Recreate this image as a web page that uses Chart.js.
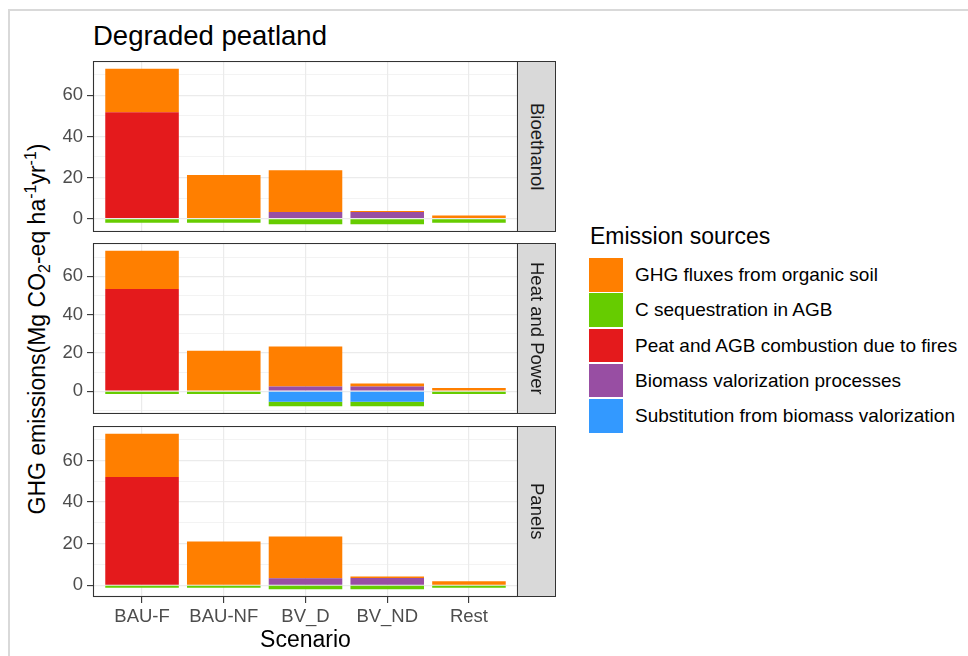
<!DOCTYPE html>
<html>
<head>
<meta charset="utf-8">
<script src="https://cdn.jsdelivr.net/npm/chart.js@4.4.1/dist/chart.umd.min.js"></script>
<style>
    body { margin: 0; background: #fff; width: 968px; height: 656px; overflow: hidden; position: relative; font-family: "Liberation Sans", Arial, sans-serif; }
    .marco { position: absolute; left: 8px; top: 9px; width: 1000px; height: 700px; border-left: 2px solid #d9d9d9; border-top: 2px solid #d9d9d9; }
    canvas { position: absolute; left: 0; }
    .strip { position: absolute; left: 517px; width: 39px; box-sizing: border-box; border: 1px solid #333; background: #d9d9d9; display: flex; align-items: center; justify-content: center; }
    .strip span { writing-mode: vertical-rl; font-size: 18.5px; color: #1a1a1a; }
    #titulo { position: absolute; left: 93px; top: 22px; font-size: 27.5px; line-height: 1; color: #000; }
    #ytitulo { position: absolute; left: 38px; top: 329px; font-size: 23px; line-height: 1; color: #000; white-space: nowrap; transform: translate(-50%, -50%) rotate(-90deg); }
    #ytitulo sub, #ytitulo sup { font-size: 16px; }
    .ltit { position: absolute; left: 590px; top: 225px; font-size: 23px; line-height: 1; color: #000; white-space: nowrap; }
    .lkey { position: absolute; left: 589px; width: 34px; height: 33.5px; }
    .ltxt { position: absolute; left: 635px; height: 35px; display: flex; align-items: center; font-size: 19px; color: #000; white-space: nowrap; }
</style>
</head>
<body>
<div class="marco"></div>
<div id="titulo">Degraded peatland</div>
<div id="ytitulo">GHG emissions(Mg CO<sub>2</sub>-eq ha<sup>-1</sup>yr<sup>-1</sup>)</div>
<canvas id="p0" width="518" height="171" style="top:61px"></canvas>
<canvas id="p1" width="518" height="171" style="top:243px"></canvas>
<canvas id="p2" width="518" height="230" style="top:426px"></canvas>
<div id="leyenda"></div>
<script>
var scenarios = ['BAU-F', 'BAU-NF', 'BV_D', 'BV_ND', 'Rest'];
var facets = ['Bioethanol', 'Heat and Power', 'Panels'];
var sources = ['GHG fluxes from organic soil', 'C sequestration in AGB', 'Peat and AGB combustion due to fires',
    'Biomass valorization processes', 'Substitution from biomass valorization'];
var colores = ['#FF7F00', '#66CC00', '#E41A1C', '#984EA3', '#3399FF'];

// Bioethanol (valores por escenario)
var ghgBio = [21.2, 21.3, 20.3, 0.5, 1.6];
var cseqBio = [-2.0, -2.0, -2.4, -2.4, -2.0];
var fireBio = [51.7, 0, 0, 0, 0];
var valBio = [0, 0, 3.3, 3.2, 0];
var subBio = [0, 0, -0.3, -0.3, 0];

// Heat and Power
var ghgHeat = [20.0, 21.1, 20.9, 1.6, 1.6];
var cseqHeat = [-1.5, -1.5, -2.3, -2.3, -1.5];
var fireHeat = [53.4, 0, 0, 0, 0];
var valHeat = [0, 0, 2.4, 2.4, 0];
var subHeat = [0, 0, -5.6, -5.6, 0];

// Panels
var ghgPan = [20.8, 21.0, 20.0, 0.7, 1.9];
var cseqPan = [-1.2, -1.2, -1.9, -1.9, -1.2];
var firePan = [52.0, 0, 0, 0, 0];
var valPan = [0, 0, 3.4, 3.5, 0];
var subPan = [0, 0, 0, 0, 0];

var fam = '"Liberation Sans", Arial, sans-serif';
// orden de apilado (el primero queda junto al cero)
var orden = [4, 3, 2, 1, 0];

var paneles = [
    [ghgBio, cseqBio, fireBio, valBio, subBio],
    [ghgHeat, cseqHeat, fireHeat, valHeat, subHeat],
    [ghgPan, cseqPan, firePan, valPan, subPan]
];
var tops = [61, 243, 426];

/****************************** funciones ******************************/

function rango(serie) {
    var hi = 0, lo = 0;
    scenarios.forEach(function (s, i) {
        var p = 0, n = 0;
        serie.forEach(function (d) { if (d[i] > 0) p += d[i]; else n += d[i]; });
        hi = Math.max(hi, p);
        lo = Math.min(lo, n);
    });
    var pad = (hi - lo) * 0.05;
    return [lo - pad, hi + pad];
}

var bordePanel = {
    id: 'bordePanel',
    afterDraw: function (chart) {
        var a = chart.chartArea, ctx = chart.ctx;
        ctx.save();
        ctx.strokeStyle = '#333333';
        ctx.lineWidth = 1.1;
        ctx.strokeRect(a.left + 0.5, a.top + 0.5, a.right - a.left - 1, a.bottom - a.top - 1);
        ctx.restore();
    }
};

function panelCanvas(idx) {
    var serie = paneles[idx];
    var abajo = idx === paneles.length - 1;
    var r = rango(serie);
    var ctx = document.getElementById('p' + idx).getContext('2d');
    var chart = new Chart(ctx, {
        type: 'bar',
        data: {
            datasets: orden.map(function (k) {
                return {
                    label: sources[k],
                    backgroundColor: colores[k],
                    categoryPercentage: 0.9,
                    barPercentage: 1,
                    data: serie[k].map(function (v, i) { return { x: i + 1, y: v }; })
                };
            })
        },
        options: {
            responsive: false,
            animation: false,
            layout: { padding: 0 },
            plugins: { legend: { display: false }, tooltip: { enabled: false } },
            scales: {
                x: {
                    type: 'linear', min: 0.4, max: 5.6, offset: false, stacked: true,
                    afterBuildTicks: function (ax) {
                        ax.ticks = scenarios.map(function (s, i) { return { value: i + 1 }; });
                    },
                    afterFit: function (ax) {
                        ax.height = abajo ? 59 : 0;
                        ax.paddingLeft = 0;
                        ax.paddingRight = 0;
                    },
                    ticks: {
                        display: abajo, autoSkip: false, maxRotation: 0, padding: 3,
                        color: '#4D4D4D', font: { size: 18.5, family: fam },
                        callback: function (v) { return scenarios[Math.round(v) - 1]; }
                    },
                    grid: { color: '#EBEBEB', lineWidth: 1.2, offset: false, drawTicks: abajo, tickColor: '#333333', tickLength: 6, tickWidth: 1.1 },
                    border: { display: false },
                    title: { display: abajo, text: 'Scenario', color: '#000', font: { size: 23, family: fam }, padding: { top: 0, bottom: 2 } }
                },
                y: {
                    min: r[0], max: r[1], stacked: true,
                    afterBuildTicks: function (ax) {
                        var t = [];
                        for (var v = Math.ceil(ax.min / 10) * 10; v <= ax.max; v += 10) t.push({ value: v });
                        ax.ticks = t;
                    },
                    afterFit: function (ax) {
                        ax.width = 93;
                        ax.paddingTop = 0;
                        ax.paddingBottom = 0;
                    },
                    ticks: {
                        stepSize: 10, autoSkip: false, padding: 4,
                        color: '#4D4D4D', font: { size: 18.5, family: fam },
                        callback: function (v) { return Math.round(v) % 20 === 0 ? Math.round(v) : ''; }
                    },
                    grid: {
                        color: '#EBEBEB',
                        lineWidth: function (c) { return c.tick && Math.round(c.tick.value) % 20 === 0 ? 1.2 : 0.6; },
                        tickColor: function (c) { return c.tick && Math.round(c.tick.value) % 20 === 0 ? '#333333' : 'rgba(0,0,0,0)'; },
                        tickLength: 6, tickWidth: 1.1
                    },
                    border: { display: false }
                }
            }
        },
        plugins: [bordePanel]
    });

    var strip = document.createElement('div');
    strip.className = 'strip';
    strip.style.top = tops[idx] + 'px';
    strip.style.height = '171px';
    strip.innerHTML = '<span>' + facets[idx] + '</span>';
    document.body.appendChild(strip);
    return chart;
}

function leyendaHTML() {
    var cont = document.getElementById('leyenda');
    var t = document.createElement('div');
    t.className = 'ltit';
    t.textContent = 'Emission sources';
    cont.appendChild(t);
    sources.forEach(function (s, k) {
        var y = 258 + k * 35.3;
        var key = document.createElement('div');
        key.className = 'lkey';
        key.style.top = y + 'px';
        key.style.background = colores[k];
        cont.appendChild(key);
        var txt = document.createElement('div');
        txt.className = 'ltxt';
        txt.style.top = (y - 0.5) + 'px';
        txt.textContent = s;
        cont.appendChild(txt);
    });
}

paneles.forEach(function (p, i) { panelCanvas(i); });
leyendaHTML();
</script>
</body>
</html>
